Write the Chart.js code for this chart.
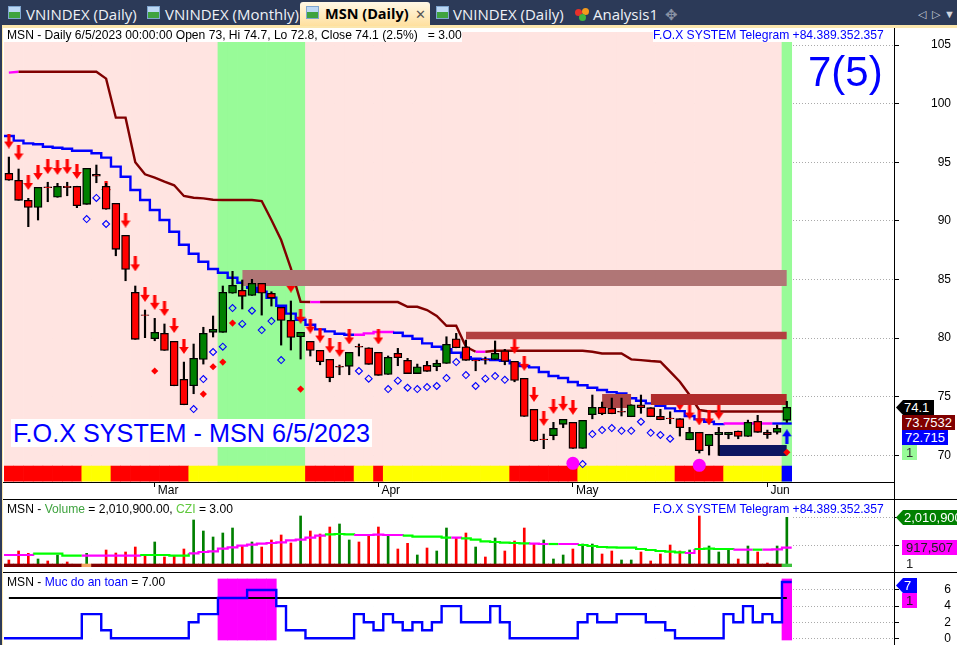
<!DOCTYPE html>
<html>
<head>
<meta charset="utf-8">
<title>MSN (Daily)</title>
<script src="https://cdn.jsdelivr.net/npm/chart.js@4/dist/chart.umd.min.js"></script>
<style>
html, body { margin: 0; padding: 0; background: #fff; overflow: hidden; }
body { position: relative; width: 957px; height: 645px; font-family: "Liberation Sans", Arial, sans-serif; }
.abs, .pane, .txt, .tag, .tab { position: absolute; }
.pane canvas { display: block; }
.txt { font-size: 12.1px; line-height: 14px; height: 14px; white-space: pre; background: #fff; z-index: 5; }
.tag { font-size: 13px; line-height: 15px; height: 15px; white-space: pre; z-index: 6; text-align: center; overflow: hidden; }
.arrow { clip-path: polygon(0 50%, 7px 0, 100% 0, 100% 100%, 7px 100%); text-align: left; padding-left: 8px; box-sizing: border-box; }
.tab { font-family: "Open Sans", sans-serif; font-size: 15px; color: #eef1f6; top: 3px; line-height: 22px; white-space: pre; z-index: 3; }
.ico { position: absolute; top: 6px; width: 13px; height: 13px; background: linear-gradient(#bcd8f5 50%, #3fa33f 50%); border: 1px solid #7fa6d0; box-sizing: border-box; z-index: 3; }
.dot { position: absolute; width: 7px; height: 7px; border-radius: 50%; z-index: 3; }
</style>
</head>
<body>
<div class="abs" style="left:0;top:0;width:957px;height:25px;background:#2c3a58"></div>
<div class="abs" style="left:0;top:0;width:2px;height:645px;background:#2c3a58"></div>
<div class="abs" style="left:2px;top:25px;width:955px;height:3px;background:#fbe6ad"></div>
<div class="abs" style="left:2px;top:25px;width:1px;height:620px;background:#fbe6ad"></div>
<div class="abs" style="left:300px;top:2px;width:130px;height:24px;border-radius:3px 3px 0 0;background:linear-gradient(#fff8e6,#ffe09f);z-index:2"></div>

<span class="ico" style="left:8px"></span><div class="tab" style="left:26px">VNINDEX (Daily)</div>
<span class="ico" style="left:147px"></span><div class="tab" style="left:165px">VNINDEX (Monthly)</div>
<span class="ico" style="left:306px"></span><div class="tab" style="left:325px;color:#000;font-weight:700;font-size:14.5px">MSN (Daily)</div><div class="tab" style="left:415px;color:#555;font-size:13px">✕</div>
<span class="ico" style="left:436px"></span><div class="tab" style="left:453px">VNINDEX (Daily)</div>
<span class="dot" style="left:575px;top:9px;background:#e8302a"></span><span class="dot" style="left:582px;top:8px;background:#f59a1c"></span><span class="dot" style="left:579px;top:14px;background:#3fb53f"></span>
<div class="tab" style="left:593px">Analysis1</div>
<div class="tab" style="left:665px;color:#8a93a5">✥</div>
<div class="tab" style="left:918px;color:#cfd4dd;font-size:11px">◁</div><div class="tab" style="left:932px;color:#cfd4dd;font-size:11px">▷</div><div class="tab" style="left:944px;color:#cfd4dd;font-size:11px">▼</div>

<div class="pane" style="left:4px;top:28px;width:953px;height:471px"><canvas id="mainChart" width="953" height="471"></canvas></div>
<div class="pane" style="left:4px;top:500px;width:953px;height:72px"><canvas id="volChart" width="953" height="72"></canvas></div>
<div class="pane" style="left:4px;top:573px;width:953px;height:72px"><canvas id="safeChart" width="953" height="72"></canvas></div>

<div class="abs" style="left:3px;top:482px;width:891px;height:1px;background:#000;z-index:4"></div>
<div class="abs" style="left:3px;top:499px;width:954px;height:1px;background:#000;z-index:4"></div>
<div class="abs" style="left:3px;top:572px;width:954px;height:1px;background:#000;z-index:4"></div>
<div class="abs" style="left:894px;top:28px;width:1px;height:617px;background:#000;z-index:4"></div>

<div class="txt" style="left:4px;top:28px;padding-left:3px">MSN - Daily 6/5/2023 00:00:00 Open 73, Hi 74.7, Lo 72.8, Close 74.1 (2.5%)   = 3.00</div>
<div class="txt" style="left:653px;top:28px;color:#0000ff">F.O.X SYSTEM Telegram +84.389.352.357</div>
<div class="txt" style="left:808px;top:47px;height:auto;line-height:50px;font-size:42px;color:#0000ff;background:none">7(5)</div>
<div class="txt" style="left:11px;top:419px;height:28px;line-height:28px;padding:0 2px;font-size:25.2px;color:#0000ff">F.O.X SYSTEM - MSN 6/5/2023</div>

<div class="txt" style="left:7px;top:502px;background:none">MSN - <span style="color:#3fa33f">Volume</span> = 2,010,900.00, <span style="color:#5fc83c">CZI</span> = 3.00</div>
<div class="txt" style="left:653px;top:502px;color:#0000ff;background:none">F.O.X SYSTEM Telegram +84.389.352.357</div>
<div class="txt" style="left:7px;top:575px;background:none">MSN - <span style="color:#0000ff">Muc do an toan</span> = 7.00</div>

<div class="tag arrow" style="left:896px;top:400px;width:38px;background:#000;color:#fff">74.1</div>
<div class="tag" style="left:902px;top:415px;width:53px;background:#800000;color:#fff">73.7532</div>
<div class="tag" style="left:902px;top:430px;width:46px;background:#0000ff;color:#fff">72.715</div>
<div class="tag" style="left:902px;top:445px;width:15px;background:#98fb98;color:#333">1</div>
<div class="tag arrow" style="left:896px;top:510px;width:61px;background:#008000;color:#fff">2,010,900</div>
<div class="tag" style="left:902px;top:540px;width:55px;background:#ff00ff;color:#222">917,507</div>
<div class="tag" style="left:902px;top:556px;width:15px;color:#222">1</div>
<div class="tag arrow" style="left:896px;top:578px;width:21px;background:#0000ff;color:#fff">7</div>
<div class="tag" style="left:902px;top:593px;width:15px;background:#ff00ff;color:#222">1</div>

<script>
// candles, bar 0 to 80, up to 6/5/2023
const opens = [94.06,93.47,91.76,91.16,92.90,92.02,92.96,92.96,91.42,93.98,92.96,91.50,88.77,83.91,82.00,79.95,80.41,79.73,76.49,75.94,
  78.19,80.50,80.50,83.83,84.08,83.65,84.68,83.83,82.63,81.52,80.12,79.73,78.96,78.19,77.59,77.60,79.30,79.18,78.79,76.91,
  78.71,78.11,76.98,77.68,77.56,77.85,79.95,79.27,78.14,78.22,78.19,78.93,78.02,76.57,73.93,71.40,71.68,72.65,72.82,70.60,
  73.47,74.10,74.01,73.75,73.30,74.32,74.07,73.33,73.19,73.13,71.33,71.97,70.82,71.76,71.76,72.08,71.62,72.90,71.97,71.97,72.99];
const highs = [95.45,94.43,91.93,92.87,93.30,93.21,93.30,92.96,94.49,94.77,93.21,91.50,88.77,84.45,82.40,81.69,81.21,79.73,77.96,79.50,
  80.93,81.89,84.45,85.70,84.96,85.02,84.68,83.96,82.63,83.17,80.50,79.73,78.96,78.19,77.71,78.79,79.50,79.18,78.79,78.48,
  79.13,78.28,77.79,78.02,78.13,80.12,80.41,79.84,78.14,78.39,79.76,79.05,78.02,76.57,73.93,71.82,72.82,73.07,72.82,72.99,
  75.15,74.55,74.89,74.89,74.32,75.15,74.07,73.93,73.72,73.13,72.39,71.97,71.80,72.39,71.97,72.08,73.01,73.42,72.16,72.59,74.61];
const lows = [93.47,91.76,89.51,90.08,91.64,92.02,92.15,91.13,91.42,93.26,91.00,87.03,84.90,79.90,80.04,79.78,78.96,75.94,74.32,75.26,
  77.79,80.10,80.50,83.83,82.49,83.65,81.97,82.74,79.41,78.99,78.22,78.48,77.73,76.28,76.88,76.88,78.48,77.77,76.83,76.91,
  77.65,76.98,76.98,77.17,77.22,77.85,79.18,78.11,77.22,77.79,78.19,77.73,76.28,73.33,71.20,70.57,71.33,72.36,70.60,70.60,
  73.12,73.47,73.55,73.36,73.30,73.59,73.30,73.04,72.70,71.65,71.33,70.20,70.03,70.00,71.42,71.42,71.62,71.97,71.45,71.82,72.82];
const closes = [93.47,91.76,91.16,92.87,92.84,92.96,92.84,91.30,94.49,93.81,91.00,87.58,85.87,79.90,81.94,80.50,78.96,75.94,74.32,78.28,
  80.41,80.75,83.91,84.51,83.57,84.68,83.83,83.42,81.52,80.07,80.50,78.96,77.99,76.62,77.53,78.79,79.24,77.77,76.83,78.36,
  78.33,76.98,77.56,77.17,77.85,79.47,79.18,78.11,78.06,78.16,78.71,78.02,76.40,73.33,71.25,71.34,72.31,73.07,70.60,72.99,
  74.10,73.55,73.55,73.69,74.32,74.07,73.30,73.04,73.13,72.36,71.97,70.40,71.80,71.97,71.97,71.62,72.82,71.97,71.76,72.31,74.10];

const blueLine = [97.25,96.85,96.62,96.54,96.33,96.25,96.16,95.99,95.99,95.77,95.40,94.63,93.77,92.64,91.79,90.93,90.08,89.08,87.97,87.20,
  86.52,85.90,85.58,85.16,84.73,84.30,83.96,83.45,82.77,82.09,81.57,81.15,80.75,80.58,80.38,80.29,80.29,80.41,80.52,80.52,
  80.46,80.18,79.95,79.56,79.27,79.05,78.76,78.37,78.25,78.19,78.13,78.07,77.85,77.62,77.51,77.11,76.77,76.60,76.26,75.98,
  75.77,75.58,75.40,75.29,74.87,74.66,74.44,74.24,74.01,73.78,73.36,73.07,72.87,72.67,72.72,72.72,72.72,72.72,72.72,72.72,72.72];
const blueMagenta = [36,37,38,39,74,75,76,77,78];

const maroonLine = [102.65,102.73,102.73,102.73,102.73,102.73,102.73,102.73,102.73,102.73,102.14,98.81,98.81,95.00,93.98,93.69,93.35,93.04,92.13,91.98,
  91.93,91.81,91.79,91.79,91.79,91.79,91.70,90.08,88.37,85.96,83.11,83.08,83.08,83.08,83.08,83.08,83.08,83.08,83.08,83.08,
  83.08,82.68,82.68,82.40,81.89,81.06,81.06,79.27,78.84,78.84,78.93,78.93,78.93,78.93,78.93,78.93,78.93,78.93,78.93,78.93,
  78.84,78.69,78.69,78.69,78.19,78.13,78.05,77.99,77.14,76.28,75.15,73.87,73.75,73.75,73.75,73.75,73.75,73.75,73.75,73.75,73.75];
const maroonMagenta = [0,31,48];

const sellArrows = [96.82,95.80,93.28,94.13,94.63,94.56,94.63,94.22,null,null,92.77,null,90.08,86.34,83.74,83.06,82.53,81.08,79.29,null,
  null,null,null,null,null,null,null,null,null,84.53,81.87,81.03,80.27,79.35,79.05,80.10,null,null,80.10,null,
  null,null,null,null,null,null,null,null,null,null,null,null,79.30,77.85,75.21,73.16,74.18,74.44,74.10,null,
  null,null,null,null,null,null,null,null,null,74.47,73.70,73.19,73.19,73.70,null,null,null,null,null,null,null];
const buyBars = [80];
const buyVals = [71.59];

const hollowBars = [8,9,10,19,20,21,22,23,24,25,26,27,28,36,37,39,40,41,42,43,44,45,46,47,48,49,50,51,59,60,61,62,63,64,65,66,67,68];
const hollowVals = [90.16,91.96,89.74,73.95,76.51,78.82,79.27,82.57,81.21,82.34,80.69,81.46,78.13,77.20,76.54,75.66,76.37,75.77,75.66,75.83,
  75.92,76.60,77.96,76.85,75.92,76.54,76.77,76.45,69.26,71.82,72.16,72.33,72.10,72.10,72.87,71.93,71.74,71.42];
const redDotBars = [15,20,21,22,23,30,80];
const redDotVals = [77.20,75.23,77.56,77.96,81.29,75.66,70.26];
const pinkDotBars = [58,71];
const pinkDotVals = [69.32,69.15];

// supply and demand boxes
const boxFrom = [24,47,61,66,73];
const boxTo = [80,80,64,80,80];
const boxHigh = [85.81,80.55,75.23,75.23,70.88];
const boxLow = [84.45,79.90,74.04,74.30,69.94];

const backZone = [0,0,0,0,0,0,0,0,0,0,0,0,0,0,0,0,0,0,0,0,0,0,1,1,1,1,1,1,1,1,1,
  0,0,0,0,0,0,0,0,0,0,0,0,0,0,0,0,0,0,0,0,0,0,0,0,0,0,0,0,0,0,0,0,0,0,0,0,0,0,0,0,0,0,0,0,0,0,0,0,0,1];
const stripZone = [0,0,0,0,0,0,0,0,1,1,1,0,0,0,0,0,0,0,0,1,1,1,1,1,1,1,1,1,1,1,1,0,0,0,0,0,1,1,0,
  1,1,1,1,1,1,1,1,1,1,1,1,1,0,0,0,0,0,0,0,1,1,1,1,1,1,1,1,1,1,0,0,0,0,0,1,1,1,1,1,1,2];

const monthBars = [15,38,58,78];
const monthNames = ['Mar','Apr','May','Jun'];
const priceTicks = [70,75,80,85,90,95,100,105];

// volume pane
const volumes = [343600,695000,604000,383000,305000,539000,266000,174000,604000,148000,734000,617000,656000,851000,500000,1047000,461000,500000,773000,1906000,
  1476000,1242000,1398000,1593000,890000,1047000,851000,1125000,1320000,1008000,2062000,1476000,1359000,1632000,1750000,1125000,1047000,1320000,1632000,1281000,
  773000,995000,539000,812000,695000,1593000,1203000,1398000,851000,461000,1203000,695000,1086000,1593000,968000,1125000,383000,539000,773000,968000,
  968000,578000,695000,344000,344000,656000,305000,578000,929000,695000,734000,2062000,890000,656000,734000,383000,890000,656000,226000,890000,2010900];
const volumeUp = [0,0,0,1,0,1,0,0,1,0,0,0,0,0,0,1,0,0,0,1,1,1,1,1,0,1,0,0,0,0,1,0,0,0,1,1,0,0,0,1,
  0,0,1,0,1,1,0,0,1,0,1,0,0,0,0,1,1,1,0,1,1,0,0,1,1,0,0,0,0,0,1,0,1,1,1,0,1,0,0,1,1];
const czi = [539000,539000,539000,591000,591000,591000,513000,513000,513000,513000,513000,513000,513000,513000,539000,539000,539000,513000,513000,604000,
  656000,682000,786000,838000,903000,942000,981000,1008000,1034000,1112000,1138000,1216000,1294000,1346000,1359000,1346000,1320000,1320000,1333000,1320000,
  1320000,1294000,1255000,1255000,1255000,1216000,1216000,1190000,1138000,1073000,1047000,1021000,1008000,995000,981000,968000,968000,968000,968000,929000,
  890000,851000,838000,825000,825000,773000,734000,695000,669000,643000,617000,773000,786000,773000,773000,747000,747000,747000,747000,760000,825000];
const cziMagenta = [0,1,2,8,9,10,11,12,13,19,20,21,22,23,24,25,26,27,28,29,30,31,32,36,37,38,39,40,46,54,55,57,58,70,75,76,78,79,80];
const volumeMarks = [917507,2010900];
const volStripLow = 82000;
const volStripHigh = 187000;

// safety pane
const safety = [0,0,0,0,0,0,0,0,3,3,1,0,0,0,0,0,0,0,0,2,3,3,5,5,5,6,6,6,4,1,1,0,0,0,0,0,3,2,1,3,
  2,1,2,1,2,4,4,2,2,2,4,2,0,0,0,0,0,0,0,2,3,2,2,3,3,3,2,2,1,0,0,0,0,0,3,2,4,2,3,2,7];
const safetyBase = 5;
const safetyTicks = [0,2,4,6];
const safetyColumns = [22,23,24,25,26,27,80];
const columnLow = -0.21;
const columnHigh = 7.37;

const priceTop = 106.46, priceBottom = 67.73;
const backTop = 106.1, backBottom = 67.8;
const stripTop = 69.09;
const volTop = 2686640, volBottom = -125000;
const safeTop = 8.11, safeBottom = -0.83;
const lastBar = 80;
const xMin = -0.5, xMax = 91.02;

const BG = ['#ffe4e1', '#98fb98'];
const STRIP = ['#ff0000', '#ffff00', '#0000ff'];
const BOX = ['#b07676', '#b24040', '#ad4545', '#b12b2b', '#0d1560'];
const UP = '#008000', DOWN = '#ff0000';

Chart.defaults.font.family = '"Liberation Sans", Arial, sans-serif';
Chart.defaults.font.size = 12;
Chart.defaults.color = '#000';

function makeArrow(color, up) {
  const c = document.createElement('canvas');
  c.width = 10; c.height = 15;
  const g = c.getContext('2d');
  g.fillStyle = color;
  g.translate(5, up ? 15 : 0);
  g.scale(1, up ? -1 : 1);
  g.beginPath();
  g.moveTo(-1.6, 0); g.lineTo(1.6, 0); g.lineTo(1.6, 8); g.lineTo(4.8, 8);
  g.lineTo(0, 15); g.lineTo(-4.8, 8); g.lineTo(-1.6, 8);
  g.closePath(); g.fill();
  return c;
}

const pts = arr => arr.map((y, x) => ({x, y}));
// hold each value over the width of its bar
const holdPts = arr => arr.map((y, i) => ({x: i - 0.5, y})).concat({x: lastBar + 0.5, y: arr[lastBar]});
const pick = (bars, vals) => bars.map((x, i) => ({x, y: vals[i]}));

function bandBars(order, low, high, colors) {
  return {type: 'bar', order, grouped: false, barPercentage: 1, categoryPercentage: 1, borderWidth: 0,
    data: colors.map((c, x) => ({x, y: [low, high]})), backgroundColor: colors};
}

function stepLine(order, data, color, width, segColor) {
  return {type: 'line', order, data, borderColor: color, borderWidth: width, pointRadius: 0, stepped: 'before', fill: false,
    segment: segColor ? {borderColor: segColor} : undefined};
}

function xScale(show) {
  return {
    type: 'linear', min: xMin, max: xMax, offset: false,
    afterBuildTicks: s => { s.ticks = show ? monthBars.map(value => ({value})) : []; },
    afterFit: s => { s.height = show ? 17 : 0; s.paddingLeft = 0; s.paddingRight = 0; },
    grid: {offset: false, drawOnChartArea: false, drawTicks: show, tickLength: 5, tickColor: '#000'},
    border: {display: false},
    ticks: {display: show, autoSkip: false, maxRotation: 0, align: 'start', labelOffset: 3, padding: -4,
      callback: v => monthNames[monthBars.indexOf(v)] || ''}
  };
}

function yScale(min, max, marks, showLabels) {
  return {
    position: 'right', min, max,
    afterBuildTicks: s => { s.ticks = marks.map(value => ({value})); },
    afterFit: s => { s.width = 57; s.paddingTop = 0; s.paddingBottom = 0; },
    grid: {color: '#aaaaaa', tickColor: '#000', tickLength: 5, lineWidth: 1},
    border: {display: false, dash: [1, 2]},
    ticks: {display: showLabels, autoSkip: false, crossAlign: 'far'}
  };
}

function baseOptions(show, yOpts) {
  return {
    responsive: false, animation: false, devicePixelRatio: 1,
    layout: {padding: {right: 6}, autoPadding: false},
    plugins: {legend: {display: false}, tooltip: {enabled: false}},
    scales: {x: xScale(show), y: yOpts}
  };
}

// main price pane
const mainSets = [
  {type: 'scatter', order: 1, data: pick(pinkDotBars, pinkDotVals), pointRadius: 6.5, pointBackgroundColor: '#ff00ff', pointBorderWidth: 0},
  {type: 'scatter', order: 2, data: pick(buyBars, buyVals), pointStyle: makeArrow('#0000ff', true), pointRadius: 6},
  {type: 'scatter', order: 3, data: pick(hollowBars, hollowVals), pointStyle: 'rectRot', pointRadius: 3.5, pointBackgroundColor: 'rgba(0,0,0,0)', pointBorderColor: '#0000ff', pointBorderWidth: 1.1},
  {type: 'scatter', order: 3, data: pick(redDotBars, redDotVals), pointStyle: 'rectRot', pointRadius: 3.6, pointBackgroundColor: '#ff0000', pointBorderWidth: 0},
  {type: 'bar', order: 4, grouped: false, barThickness: 8, borderColor: '#000', borderWidth: 1.3, borderSkipped: false,
    data: opens.map((o, x) => ({x, y: [o, closes[x]]})),
    backgroundColor: opens.map((o, i) => closes[i] >= o ? UP : DOWN)},
  {type: 'bar', order: 5, grouped: false, barThickness: 1.5, backgroundColor: '#000', borderWidth: 0,
    data: lows.map((l, x) => ({x, y: [l, highs[x]]}))}
];
boxFrom.forEach((from, i) => {
  mainSets.push({type: 'line', order: 6, data: [{x: from, y: boxHigh[i]}, {x: boxTo[i], y: boxHigh[i]}], fill: '+1', backgroundColor: BOX[i], borderWidth: 0, pointRadius: 0});
  mainSets.push({type: 'line', order: 6, data: [{x: from, y: boxLow[i]}, {x: boxTo[i], y: boxLow[i]}], fill: false, borderWidth: 0, pointRadius: 0});
});
mainSets.push(
  {type: 'scatter', order: 7, data: pts(sellArrows), pointStyle: makeArrow('#ff0000', false), pointRadius: 6},
  {type: 'line', order: 8, data: pts(maroonLine), borderColor: '#800000', borderWidth: 2.4, pointRadius: 0, fill: false,
    segment: {borderColor: c => maroonMagenta.includes(c.p0DataIndex) ? '#ff00ff' : '#800000'}},
  stepLine(9, holdPts(blueLine), '#0000ff', 2.4, c => blueMagenta.includes(c.p0DataIndex) ? '#ff00ff' : '#0000ff'),
  bandBars(20, backBottom, stripTop, stripZone.map(z => STRIP[z])),
  bandBars(30, backBottom, backTop, backZone.map(z => BG[z]))
);

new Chart(document.getElementById('mainChart'), {
  type: 'bar',
  data: {datasets: mainSets},
  options: baseOptions(true, yScale(priceBottom, priceTop, priceTicks, true))
});

// volume pane
const volSets = [
  stepLine(1, holdPts(czi), '#00ff00', 2.2, c => cziMagenta.includes(c.p0DataIndex) ? '#ff00ff' : '#00ff00'),
  bandBars(2, volStripLow, volStripHigh, volumes.map((v, i) => i === lastBar ? '#3fc33f' : i === 8 ? '#f4a460' : '#800000')),
  {type: 'bar', order: 3, grouped: false, barThickness: 2, borderWidth: 0, data: volumes.map((v, x) => ({x, y: [volStripLow, v]})),
    backgroundColor: volumeUp.map(u => u ? UP : DOWN)},
  // white under the bars so the dotted marks only show right of the last bar
  bandBars(4, volBottom, volTop, volumes.map(() => '#ffffff'))
];
new Chart(document.getElementById('volChart'), {
  type: 'bar',
  data: {datasets: volSets},
  options: baseOptions(false, yScale(volBottom, volTop, volumeMarks, false))
});

// safety level pane
const safeSets = [
  stepLine(1, holdPts(safety), '#0000ff', 2.4),
  {type: 'line', order: 2, data: safety.map((v, x) => ({x, y: safetyBase})), borderColor: '#000', borderWidth: 2, pointRadius: 0, fill: false},
  {type: 'bar', order: 3, grouped: false, barPercentage: 1, categoryPercentage: 1, borderWidth: 0, backgroundColor: '#ff00ff',
    data: safetyColumns.map(x => ({x, y: [columnLow, columnHigh]}))},
  bandBars(4, safeBottom, safeTop, safety.map(() => '#ffffff'))
];
new Chart(document.getElementById('safeChart'), {
  type: 'bar',
  data: {datasets: safeSets},
  options: baseOptions(false, yScale(safeBottom, safeTop, safetyTicks, true))
});
</script>
</body>
</html>
